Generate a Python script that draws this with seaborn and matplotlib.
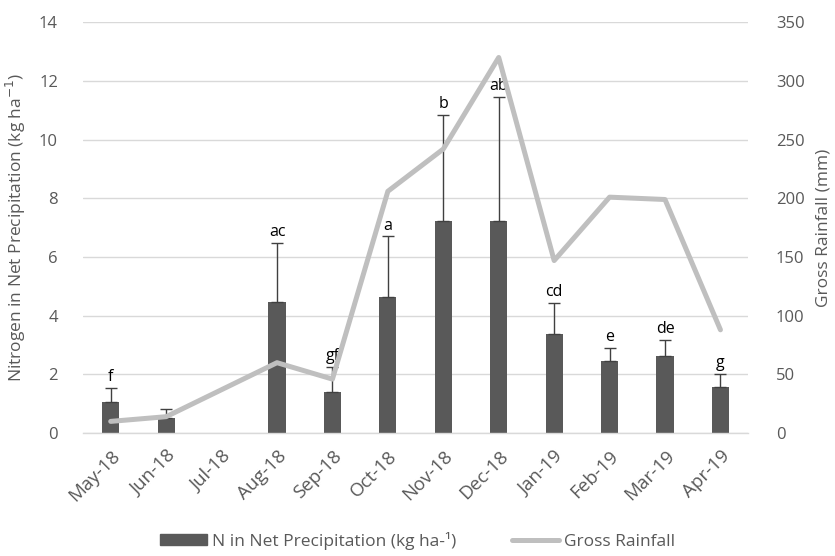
import numpy as np
import pandas as pd
import matplotlib
matplotlib.use("Agg")
import matplotlib.pyplot as plt
from matplotlib.patches import Patch
from matplotlib.lines import Line2D
import seaborn as sns

months = ["May-18", "Jun-18", "Jul-18", "Aug-18", "Sep-18", "Oct-18",
          "Nov-18", "Dec-18", "Jan-19", "Feb-19", "Mar-19", "Apr-19"]
n_precip = [1.07, 0.50, np.nan, 4.47, 1.39, 4.63, 7.23, 7.23, 3.37, 2.46, 2.63, 1.57]
n_err = [0.48, 0.31, np.nan, 2.01, 0.87, 2.07, 3.62, 4.22, 1.06, 0.45, 0.55, 0.44]
letters = ["f", "", "", "ac", "gf", "a", "b", "ab", "cd", "e", "de", "g"]
rainfall = [10, 14, np.nan, 60, 46, 206, 242, 320, 147, 201, 199, 88]

sns.set_theme(style="white")
plt.rcParams["font.family"] = ["Open Sans", "DejaVu Sans"]

text_gray = "#595959"
bar_color = "#595959"
line_color = "#BFBFBF"
grid_color = "#D9D9D9"

df = pd.DataFrame({"month": months, "n": n_precip, "err": n_err,
                   "rain": rainfall, "pos": np.arange(len(months))})

fig = plt.figure(figsize=(8.35, 5.56), dpi=100)
ax = fig.add_axes([0.0994, 0.221, 0.7966, 0.739])

sns.barplot(data=df, x="month", y="n", color=bar_color, width=0.31,
            saturation=1, linewidth=0, ax=ax, zorder=2)
ax.errorbar(df["pos"], df["n"], yerr=[np.zeros(len(df)), df["err"]],
            fmt="none", ecolor="#404040", elinewidth=1.0, capsize=4.5,
            capthick=1.0, zorder=3)
for p, v, e, t in zip(df["pos"], df["n"], df["err"], letters):
    if t:
        ax.text(p, v + e + 0.1, t, ha="center", va="bottom",
                fontsize=11.5, color="black", zorder=5)

ax.set_ylim(0, 14)
ax.set_yticks(np.arange(0, 15, 2))
ax.set_xlim(-0.5, len(months) - 0.5)
ax.yaxis.grid(True, color=grid_color, linewidth=1.0, zorder=0)
ax.set_axisbelow(True)
for s in ["top", "right", "left"]:
    ax.spines[s].set_visible(False)
ax.spines["bottom"].set_color(grid_color)
ax.spines["bottom"].set_linewidth(1.0)
ax.set_xlabel("")
ax.set_ylabel("Nitrogen in Net Precipitation (kg ha$^{-1}$)",
              color=text_gray, fontsize=12.5, labelpad=8)
ax.tick_params(axis="y", length=0, labelsize=12, labelcolor=text_gray, pad=18)
ax.set_xticks(df["pos"])
ax.set_xticklabels(months, rotation=45, ha="right", rotation_mode="anchor",
                   fontsize=13.5, color=text_gray)
ax.tick_params(axis="x", which="major", length=0, pad=10)
ax.set_xticks(np.arange(-0.5, len(months), 1), minor=True)
ax.tick_params(axis="x", which="minor", length=5, color=grid_color, width=1.0)

ax2 = ax.twinx()
rain_df = df.dropna(subset=["rain"])
sns.lineplot(data=rain_df, x="pos", y="rain", color=line_color, linewidth=3.6,
             ax=ax2, zorder=4)
ax2.set_ylim(0, 350)
ax2.set_yticks(np.arange(0, 351, 50))
ax2.set_xlim(-0.5, len(months) - 0.5)
for s in ["top", "right", "left", "bottom"]:
    ax2.spines[s].set_visible(False)
ax2.set_xlabel("")
ax2.set_ylabel("Gross Rainfall (mm)", color=text_gray, fontsize=12.5, labelpad=8)
ax2.tick_params(axis="y", length=0, labelsize=12, labelcolor=text_gray, pad=20)
ax2.grid(False)

handles = [Patch(facecolor=bar_color, edgecolor=bar_color),
           Line2D([0], [0], color=line_color, linewidth=3.6)]
labels = ["N in Net Precipitation (kg ha-¹)", "Gross Rainfall"]
fig.legend(handles, labels, loc="center", bbox_to_anchor=(0.5, 0.027),
           ncol=2, frameon=False, fontsize=12.5, labelcolor=text_gray,
           handlelength=2.7, handleheight=0.6, columnspacing=3.2,
           handletextpad=0.3)

fig.savefig("out.png", dpi=100)
